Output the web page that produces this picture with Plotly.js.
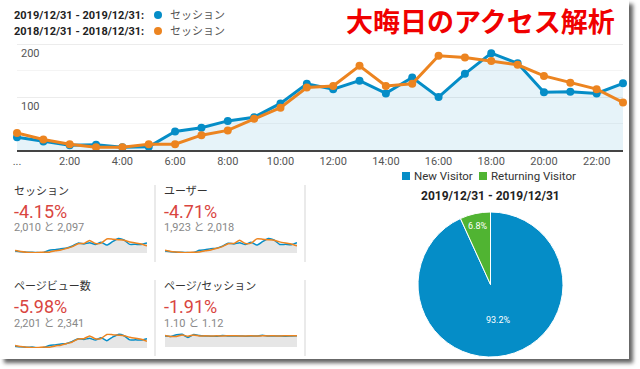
<!DOCTYPE html>
<html>
<head>
<meta charset="utf-8">
<script src="https://cdn.plot.ly/plotly-3.0.1.min.js"></script>
<style>
html,body{margin:0;padding:0;background:#ffffff;width:640px;height:369px;overflow:hidden;}
#card{position:absolute;left:0;top:0;width:629px;height:359px;background:#fff;box-shadow:4px 4px 4px rgba(0,0,0,0.62);}
#chart{width:629px;height:359px;}
</style>
</head>
<body>
<div id="card"><div id="chart"></div></div>
<script>
// ---- data ----
const hours = [0,1,2,3,4,5,6,7,8,9,10,11,12,13,14,15,16,17,18,19,20,21,22,23];
const xTickVals = [0,2,4,6,8,10,12,14,16,18,20,22];
const xTickText = ['...','2:00','4:00','6:00','8:00','10:00','12:00','14:00','16:00','18:00','20:00','22:00'];
const yTickVals = [100,200];
const yTickText = ['100','200'];

const sessions2019 = [24,16,9,10,5,6,35,42,55,62,88,125,115,131,107,137,100,144,183,164,109,110,107,126];
const sessions2018 = [32,20,11,5,5,11,11,28,37,59,80,118,121,159,121,125,178,175,168,161,140,127,115,90];
const users2019 = [23,15,9,10,5,6,33,40,53,59,84,119,110,125,102,131,96,138,175,157,104,105,100,124];
const users2018 = [33,19,11,5,5,10,11,27,36,57,77,113,116,153,116,120,171,168,162,155,135,122,110,86];
const pageviews2019 = [27,17,11,13,5,7,38,46,60,67,97,137,126,143,117,150,108,160,200,180,119,120,116,138];
const pageviews2018 = [37,21,12,6,6,13,12,31,41,66,89,132,136,178,135,140,199,196,188,180,157,142,129,100];
const pps2019 = [1.10,1.06,1.22,1.27,0.95,1.24,1.14,1.10,1.08,1.08,1.15,1.10,1.09,1.10,1.08,1.09,1.10,1.18,1.09,1.10,1.09,1.08,1.10,1.12];
const pps2018 = [1.15,1.05,1.06,1.20,1.08,1.20,1.10,1.12,1.10,1.12,1.10,1.12,1.13,1.10,1.11,1.12,1.10,1.12,1.11,1.12,1.10,1.12,1.13,1.13];

const legendDates = ['2019/12/31 - 2019/12/31:','2018/12/31 - 2018/12/31:'];
const seriesName = 'セッション';
const chartTitle = '大晦日のアクセス解析';
const metricNames = ['セッション','ユーザー','ページビュー数','ページ/セッション'];
const metricChange = ['-4.15%','-4.71%','-5.98%','-1.91%'];
const metricTotals = ['2,010 と 2,097','1,923 と 2,018','2,201 と 2,341','1.10 と 1.12'];

const pieLabels = ['New Visitor','Returning Visitor'];
const pieValues = [93.2,6.8];
const pieTitle = '2019/12/31 - 2019/12/31';

// ---- styles ----
const BLUE = '#058dc7', ORANGE = '#ec8420', GREEN = '#50b432', RED = '#d9453f';
const FONT = 'Roboto, "Noto Sans CJK JP", Arial, sans-serif';
const W = 629, H = 359;
const fx = p => p / W;
const fy = p => 1 - p / H;

const traces = [];
// main chart
traces.push({x:hours, y:sessions2019, type:'scatter', mode:'lines+markers', xaxis:'x', yaxis:'y',
  line:{color:BLUE, width:3}, marker:{color:BLUE, size:8}, fill:'tozeroy', fillcolor:'rgba(5,141,199,0.10)',
  cliponaxis:false, showlegend:false, hoverinfo:'skip'});
traces.push({x:hours, y:sessions2018, type:'scatter', mode:'lines+markers', xaxis:'x', yaxis:'y',
  line:{color:ORANGE, width:3}, marker:{color:ORANGE, size:8},
  cliponaxis:false, showlegend:false, hoverinfo:'skip'});

// sparklines
const sparks = [[sessions2019,sessions2018],[users2019,users2018],[pageviews2019,pageviews2018],[pps2019,pps2018]];
const sparkAxes = [['x2','y2'],['x3','y3'],['x4','y4'],['x5','y5']];
sparks.forEach((pair, i) => {
  const [xa, ya] = sparkAxes[i];
  traces.push({x:hours, y:pair[0], type:'scatter', mode:'lines', xaxis:xa, yaxis:ya,
    line:{color:BLUE, width:1.5, shape:'spline', smoothing:0.5}, fill:'tozeroy', fillcolor:'#e6e6e6',
    showlegend:false, hoverinfo:'skip'});
  traces.push({x:hours, y:pair[1], type:'scatter', mode:'lines', xaxis:xa, yaxis:ya,
    line:{color:ORANGE, width:1.5, shape:'spline', smoothing:0.5},
    showlegend:false, hoverinfo:'skip'});
});

// pie
traces.push({type:'pie', labels:pieLabels, values:pieValues, sort:false, direction:'clockwise', rotation:0,
  marker:{colors:[BLUE, GREEN], line:{color:'#ffffff', width:1}},
  textinfo:'percent', textposition:'inside', insidetextorientation:'horizontal',
  insidetextfont:{color:'#ffffff', size:9, family:FONT},
  domain:{x:[fx(418), fx(563)], y:[fy(357), fy(212)]}, hoverinfo:'skip', showlegend:false});

const sparkAxis = (dx0, dx1, dy0, dy1, ymax) => ({
  x: {domain:[fx(dx0), fx(dx1)], range:[0,23], visible:false, fixedrange:true},
  y: {domain:[fy(dy1), fy(dy0)], range:[0, ymax], visible:false, fixedrange:true}
});
const s2 = sparkAxis(15,147,236,253,215);
const s3 = sparkAxis(165,297,236,253,206);
const s4 = sparkAxis(15,147,332,348,235);
const s5 = sparkAxis(165,297,330,347,1.7);

const annotations = [];
const ann = (text, px, py, opts) => Object.assign({text, x:fx(px), y:fy(py), xref:'paper', yref:'paper',
  showarrow:false, xanchor:'left', yanchor:'middle'}, opts);

// y-axis labels (drawn just below their gridlines, GA style)
yTickVals.forEach((v, i) => {
  annotations.push({text:yTickText[i], x:fx(19), xref:'paper', y:v, yref:'y', yanchor:'top', xanchor:'left',
    yshift:-1, showarrow:false, font:{family:FONT, size:11, color:'#555'}});
});

// top legend
legendDates.forEach((d, i) => {
  const py = [15, 31][i];
  annotations.push(ann('<b>'+d+'</b>', 12, py, {font:{family:FONT, size:11, color:'#222'}}));
  annotations.push(ann(seriesName, 168, py, {font:{family:FONT, size:11, color:'#555'}}));
});
// big title
annotations.push(ann('<b>'+chartTitle+'</b>', 344, 20, {font:{family:'"Noto Sans CJK JP", sans-serif', size:27, color:'#f00000'}}));

// scorecards
const cardPos = [[12,191],[162,191],[12,286],[162,286]];
metricNames.forEach((n, i) => {
  const [px, py] = cardPos[i];
  annotations.push(ann(n, px, py, {font:{family:FONT, size:11, color:'#333'}}));
  annotations.push(ann(metricChange[i], px, py+20, {font:{family:FONT, size:18, color:RED}}));
  annotations.push(ann(metricTotals[i], px, py+37, {font:{family:FONT, size:11, color:'#888'}}));
});
// pie legend
const pieLegendX = [[402,412],[479,489]];
const shapes = [];
pieLabels.forEach((l, i) => {
  const [sx, tx] = pieLegendX[i];
  shapes.push({type:'rect', xref:'paper', yref:'paper', x0:fx(sx), x1:fx(sx+8), y0:fy(180), y1:fy(172),
    fillcolor:[BLUE, GREEN][i], line:{width:0}});
  annotations.push(ann(l, tx, 176, {font:{family:FONT, size:11.5, color:'#333'}}));
});
// pie title
annotations.push({text:'<b>'+pieTitle+'</b>', x:fx(490), y:fy(196), xref:'paper', yref:'paper', showarrow:false,
  xanchor:'center', yanchor:'middle', font:{family:FONT, size:12, color:'#222'}});

// top legend dots + separators
[15, 31].forEach((py, i) => {
  shapes.push({type:'circle', xref:'paper', yref:'paper', x0:fx(154), x1:fx(162), y0:fy(py+4), y1:fy(py-4),
    fillcolor:[BLUE, ORANGE][i], line:{width:0}});
});
[[155,185,262],[305,185,262],[155,280,356],[305,280,356]].forEach(([px, a, b]) => {
  shapes.push({type:'line', xref:'paper', yref:'paper', x0:fx(px), x1:fx(px), y0:fy(a), y1:fy(b),
    line:{color:'#e3e3e3', width:1.5}});
});

const layout = {
  width:W, height:H, margin:{l:0, r:0, t:0, b:0},
  paper_bgcolor:'#ffffff', plot_bgcolor:'rgba(0,0,0,0)',
  font:{family:FONT, color:'#444'},
  showlegend:false,
  xaxis:{domain:[fx(17), fx(623)], range:[0,23], showgrid:false, zeroline:false, showline:true,
    linecolor:'#444', linewidth:1.5, tickvals:xTickVals, ticktext:xTickText, ticks:'',
    tickfont:{family:FONT, size:11, color:'#555'}, fixedrange:true},
  yaxis:{domain:[fy(150), fy(33.6)], range:[0,220], tickvals:yTickVals, showgrid:true, gridcolor:'#ececec',
    zeroline:false, showline:false, ticks:'', showticklabels:false, fixedrange:true,
    minor:{tickvals:[50,150], showgrid:true, gridcolor:'#f4f4f4'}},
  xaxis2:s2.x, yaxis2:s2.y, xaxis3:s3.x, yaxis3:s3.y, xaxis4:s4.x, yaxis4:s4.y, xaxis5:s5.x, yaxis5:s5.y,
  annotations, shapes
};

Plotly.newPlot('chart', traces, layout, {displayModeBar:false, staticPlot:true});
</script>
</body>
</html>
